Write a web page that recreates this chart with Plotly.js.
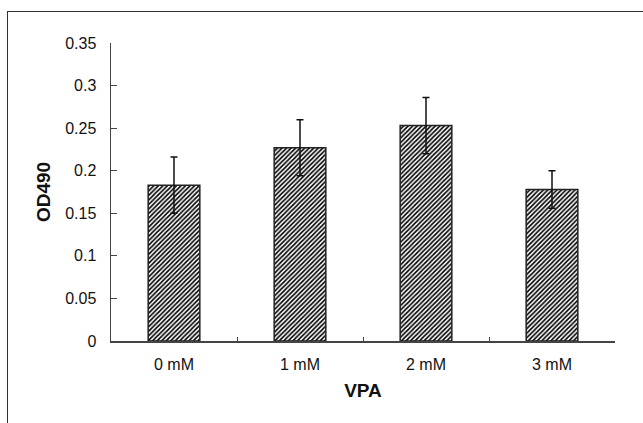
<!DOCTYPE html>
<html>
<head>
<meta charset="utf-8">
<script src="https://cdn.plot.ly/plotly-3.0.1.min.js"></script>
<style>
  html, body { margin: 0; padding: 0; background: #fff; }
  #wrap { position: relative; width: 643px; height: 423px; overflow: hidden; }
  #frame { position: absolute; left: 7px; top: 11px; width: 700px; height: 500px;
           border-top: 1.5px solid #333; border-left: 1.5px solid #333; pointer-events: none; }
  #chart { position: absolute; left: 0; top: 0; width: 643px; height: 423px; }
</style>
</head>
<body>
<div id="wrap">
  <div id="chart"></div>
  <div id="frame"></div>
</div>
<script>
const categories = ["0 mM", "1 mM", "2 mM", "3 mM"];
const od490 = [0.183, 0.227, 0.253, 0.178];
const errors = [0.033, 0.033, 0.033, 0.022];
const yTicks = [0, 0.05, 0.1, 0.15, 0.2, 0.25, 0.3, 0.35];

const trace = {
  type: "bar",
  x: categories,
  y: od490,
  marker: {
    color: "#ffffff",
    line: { color: "#222222", width: 1.5 },
    pattern: { shape: "/", fgcolor: "#000000", bgcolor: "#ffffff", size: 3.2, solidity: 0.5 }
  },
  error_y: { type: "data", array: errors, visible: true, color: "#111111", thickness: 1.5, width: 3.5 },
  hoverinfo: "skip"
};

const layout = {
  width: 643, height: 423,
  margin: { l: 111, r: 28, t: 43, b: 82, pad: 0 },
  paper_bgcolor: "rgba(0,0,0,0)",
  plot_bgcolor: "rgba(0,0,0,0)",
  bargap: 0.59,
  showlegend: false,
  font: { family: "Liberation Sans, Arial, sans-serif", color: "#111" },
  xaxis: {
    type: "category",
    showline: true, linecolor: "#444", linewidth: 1.5,
    ticks: "inside", tickson: "boundaries", ticklen: 4, tickcolor: "#444", tickwidth: 1,
    tickfont: { size: 16, color: "#111" },
    ticklabelstandoff: 8,
    showgrid: false, zeroline: false,
    title: { text: "<b>VPA</b>", font: { size: 19, color: "#111" }, standoff: 12 }
  },
  yaxis: {
    range: [0, 0.35],
    tickvals: yTicks,
    showline: true, linecolor: "#444", linewidth: 1.5,
    ticks: "inside", ticklen: 6, tickcolor: "#444", tickwidth: 1,
    tickfont: { size: 16, color: "#111" },
    ticklabelstandoff: 10,
    showgrid: false, zeroline: false,
    title: { text: "<b>OD490</b>", font: { size: 19, color: "#111" }, standoff: 9 }
  }
};

Plotly.newPlot("chart", [trace], layout, { staticPlot: true, displayModeBar: false });
</script>
</body>
</html>
